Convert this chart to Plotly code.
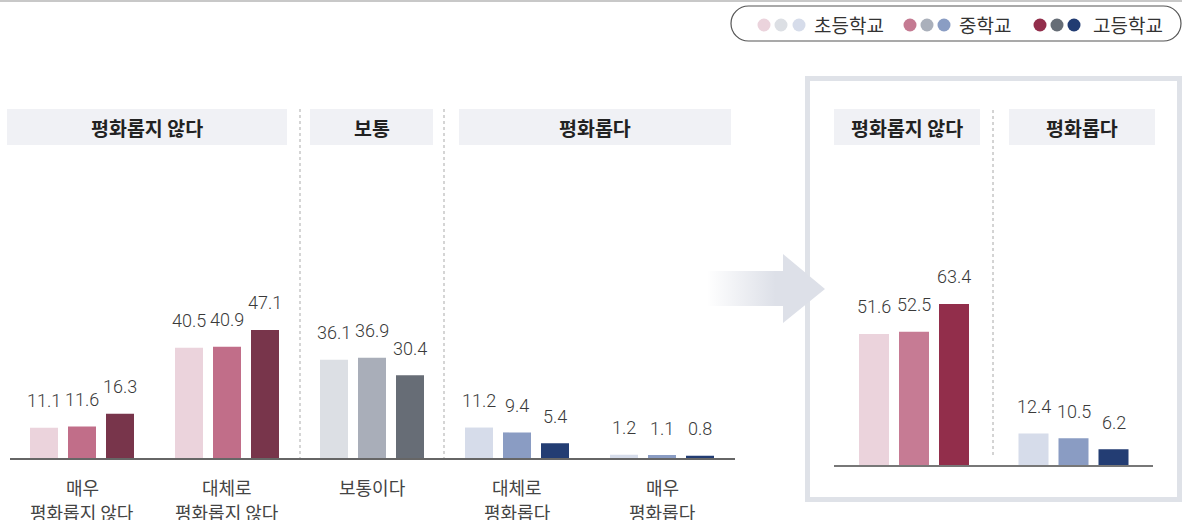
import plotly.graph_objects as go

# ---- data -------------------------------------------------------------
detail_categories = ["매우\n평화롭지 않다", "대체로\n평화롭지 않다", "보통이다", "대체로\n평화롭다", "매우\n평화롭다"]
detail_elementary = [11.1, 40.5, 36.1, 11.2, 1.2]
detail_middle = [11.6, 40.9, 36.9, 9.4, 1.1]
detail_high = [16.3, 47.1, 30.4, 5.4, 0.8]

summary_categories = ["평화롭지 않다", "평화롭다"]
summary_elementary = [51.6, 12.4]
summary_middle = [52.5, 10.5]
summary_high = [63.4, 6.2]

school_levels = ["초등학교", "중학교", "고등학교"]

# ---- palette (per school level, per tone) ------------------------------
PINK = ["#ebd3dc", "#c16e89", "#78354b"]
GRAY = ["#dcdfe4", "#a9aeb9", "#676d76"]
BLUE = ["#d6dcea", "#8a9cc3", "#233d73"]
PINK_SUM = ["#ebd3dc", "#c67b94", "#922e4b"]
detail_tones = [PINK, PINK, GRAY, BLUE, BLUE]
summary_tones = [PINK_SUM, BLUE]
legend_dots = [
    ["#ebd3dc", "#dcdfe4", "#d6dcea"],
    ["#c47a92", "#aab0bb", "#8a9dc3"],
    ["#922e4b", "#666d76", "#223c72"],
]

W, H = 1182, 520
FONT = "Noto Sans CJK KR"
NUM_FONT = "Roboto, Liberation Sans, sans-serif"


def fx(p):
    return p / W


def fy(p):
    return 1 - p / H


# layout geometry in pixels
L_X0, L_X1 = 9.5, 734.5          # left axis span (5 categories)
L_BASE, L_TOP = 458, 110
L_SCALE = 2.72                   # px per %
R_X0, R_X1 = 834.25, 1153.25     # right axis span (2 categories)
R_BASE, R_TOP = 465, 110
R_SCALE = 2.54

l_cat = (L_X1 - L_X0) / len(detail_categories)
r_cat = (R_X1 - R_X0) / len(summary_categories)
l_w, l_pitch = 28 / l_cat, 38 / l_cat
r_w, r_pitch = 30 / r_cat, 40 / r_cat

fig = go.Figure()

detail_series = [detail_elementary, detail_middle, detail_high]
summary_series = [summary_elementary, summary_middle, summary_high]
l_idx = list(range(len(detail_categories)))
r_idx = list(range(len(summary_categories)))

for j, (name, vals) in enumerate(zip(school_levels, detail_series)):
    fig.add_trace(go.Bar(
        x=l_idx, y=vals, name=name, width=l_w, offset=(j - 1) * l_pitch - l_w / 2,
        marker=dict(color=[t[j] for t in detail_tones], line=dict(width=0)),
        xaxis="x", yaxis="y", showlegend=False, hoverinfo="y",
    ))
for j, (name, vals) in enumerate(zip(school_levels, summary_series)):
    fig.add_trace(go.Bar(
        x=r_idx, y=vals, name=name, width=r_w, offset=(j - 1) * r_pitch - r_w / 2,
        marker=dict(color=[t[j] for t in summary_tones], line=dict(width=0)),
        xaxis="x2", yaxis="y2", showlegend=False, hoverinfo="y",
    ))

# transition arrow on a pixel overlay
ax = [707, 783, 783, 825, 783, 783, 707, 707]
ay = [271, 271, 254, 289, 323, 306, 306, 271]
fig.add_trace(go.Scatter(
    x=ax, y=ay, mode="lines", line=dict(width=0), fill="toself",
    fillgradient=dict(type="horizontal",
                      colorscale=[[0, "rgba(221,224,232,0)"], [0.58, "#dde0e8"], [1, "#dde0e8"]]),
    xaxis="x3", yaxis="y3", showlegend=False, hoverinfo="skip",
))

annotations = []
# value labels
for j, vals in enumerate(detail_series):
    for i, v in enumerate(vals):
        annotations.append(dict(
            x=i + (j - 1) * l_pitch, y=v, xref="x", yref="y", text=f"{v}",
            showarrow=False, xanchor="center", yanchor="middle", yshift=27,
            font=dict(family=NUM_FONT, size=18, color="#3a3a3a", weight=300)))
for j, vals in enumerate(summary_series):
    for i, v in enumerate(vals):
        annotations.append(dict(
            x=i + (j - 1) * r_pitch, y=v, xref="x2", yref="y2", text=f"{v}",
            showarrow=False, xanchor="center", yanchor="middle", yshift=27,
            font=dict(family=NUM_FONT, size=18, color="#3a3a3a", weight=300)))

# category labels under the left chart
for i, cat in enumerate(detail_categories):
    for k, line in enumerate(cat.split("\n")):
        annotations.append(dict(
            x=i, y=fy(487 + 25 * k), xref="x", yref="paper", text=line,
            showarrow=False, xanchor="center", yanchor="middle",
            font=dict(family=FONT, size=18, color="#444444")))

shapes = []
# section headers
headers = [(7, 287, "평화롭지 않다"), (310, 433, "보통"), (459, 731, "평화롭다"),
           (834, 980, "평화롭지 않다"), (1009, 1155, "평화롭다")]
for x0, x1, label in headers:
    shapes.append(dict(type="rect", xref="paper", yref="paper", layer="below",
                       x0=fx(x0), x1=fx(x1), y0=fy(145), y1=fy(109),
                       fillcolor="#f0f1f5", line=dict(width=0)))
    annotations.append(dict(x=fx((x0 + x1) / 2), y=fy(127), xref="paper", yref="paper",
                            text=f"<b>{label}</b>", showarrow=False,
                            xanchor="center", yanchor="middle",
                            font=dict(family=FONT, size=19.5, color="#222222")))

# dotted dividers
for xp in (300, 444):
    shapes.append(dict(type="line", xref="paper", yref="paper", layer="below",
                       x0=fx(xp), x1=fx(xp), y0=fy(109), y1=fy(L_BASE),
                       line=dict(color="#c8c8c8", width=1.5, dash="dot")))
shapes.append(dict(type="line", xref="paper", yref="paper", layer="below",
                   x0=fx(993), x1=fx(993), y0=fy(110), y1=fy(455),
                   line=dict(color="#a8a8a8", width=1, dash="dot")))

# summary frame
shapes.append(dict(type="rect", xref="paper", yref="paper", layer="below",
                   x0=fx(807.5), x1=fx(1179.5), y0=fy(499.5), y1=fy(78.5),
                   line=dict(color="#dfe2e8", width=5), fillcolor="rgba(0,0,0,0)"))

# top rule
shapes.append(dict(type="line", xref="paper", yref="paper",
                   x0=0, x1=1, y0=fy(1), y1=fy(1), line=dict(color="#c8c8c8", width=2)))


# legend pill
def pill(x0, y0, x1, y1):
    r = (y1 - y0) / 2
    k = 0.5523 * r

    def p(x, y):
        return f"{fx(x):.5f},{fy(y):.5f}"
    return (f"M{p(x0 + r, y0)} L{p(x1 - r, y0)} "
            f"C{p(x1 - r + k, y0)} {p(x1, y0 + r - k)} {p(x1, y0 + r)} "
            f"C{p(x1, y0 + r + k)} {p(x1 - r + k, y1)} {p(x1 - r, y1)} "
            f"L{p(x0 + r, y1)} "
            f"C{p(x0 + r - k, y1)} {p(x0, y1 - r + k)} {p(x0, y0 + r)} "
            f"C{p(x0, y0 + r - k)} {p(x0 + r - k, y0)} {p(x0 + r, y0)} Z")


shapes.append(dict(type="path", xref="paper", yref="paper", path=pill(731, 6, 1181, 41),
                   line=dict(color="#555555", width=1.2), fillcolor="rgba(0,0,0,0)"))

dot_x = [[764, 781, 799], [910, 927, 944], [1040, 1057, 1074]]
text_x = [812, 957, 1091]
for g, label in enumerate(school_levels):
    for c in range(3):
        cx = dot_x[g][c]
        shapes.append(dict(type="circle", xref="paper", yref="paper",
                           x0=fx(cx - 6.5), x1=fx(cx + 6.5), y0=fy(31.5), y1=fy(18.5),
                           fillcolor=legend_dots[g][c], line=dict(width=0)))
    annotations.append(dict(x=fx(text_x[g]), y=fy(24), xref="paper", yref="paper",
                            text=label, showarrow=False, xanchor="left", yanchor="middle",
                            font=dict(family=FONT, size=19, color="#333333")))

axis_common = dict(showgrid=False, zeroline=False, showticklabels=False, ticks="",
                   fixedrange=True)
fig.update_layout(
    width=W, height=H, margin=dict(l=0, r=0, t=0, b=0),
    paper_bgcolor="white", plot_bgcolor="rgba(0,0,0,0)",
    barmode="overlay", showlegend=False,
    font=dict(family=FONT),
    xaxis=dict(domain=[fx(L_X0), fx(L_X1)], range=[-0.5, len(detail_categories) - 0.5],
               anchor="y", showline=True, linecolor="#666666", linewidth=2, **axis_common),
    yaxis=dict(domain=[fy(L_BASE), fy(L_TOP)], range=[0, (L_BASE - L_TOP) / L_SCALE],
               anchor="x", showline=False, **axis_common),
    xaxis2=dict(domain=[fx(R_X0), fx(R_X1)], range=[-0.5, len(summary_categories) - 0.5],
                anchor="y2", showline=True, linecolor="#777777", linewidth=2, **axis_common),
    yaxis2=dict(domain=[fy(R_BASE), fy(R_TOP)], range=[0, (R_BASE - R_TOP) / R_SCALE],
                anchor="x2", showline=False, **axis_common),
    xaxis3=dict(domain=[0, 1], range=[0, W], anchor="y3", visible=False, fixedrange=True),
    yaxis3=dict(domain=[0, 1], range=[H, 0], anchor="x3", visible=False, fixedrange=True),
    shapes=shapes, annotations=annotations,
)

fig.write_html("out.html")
